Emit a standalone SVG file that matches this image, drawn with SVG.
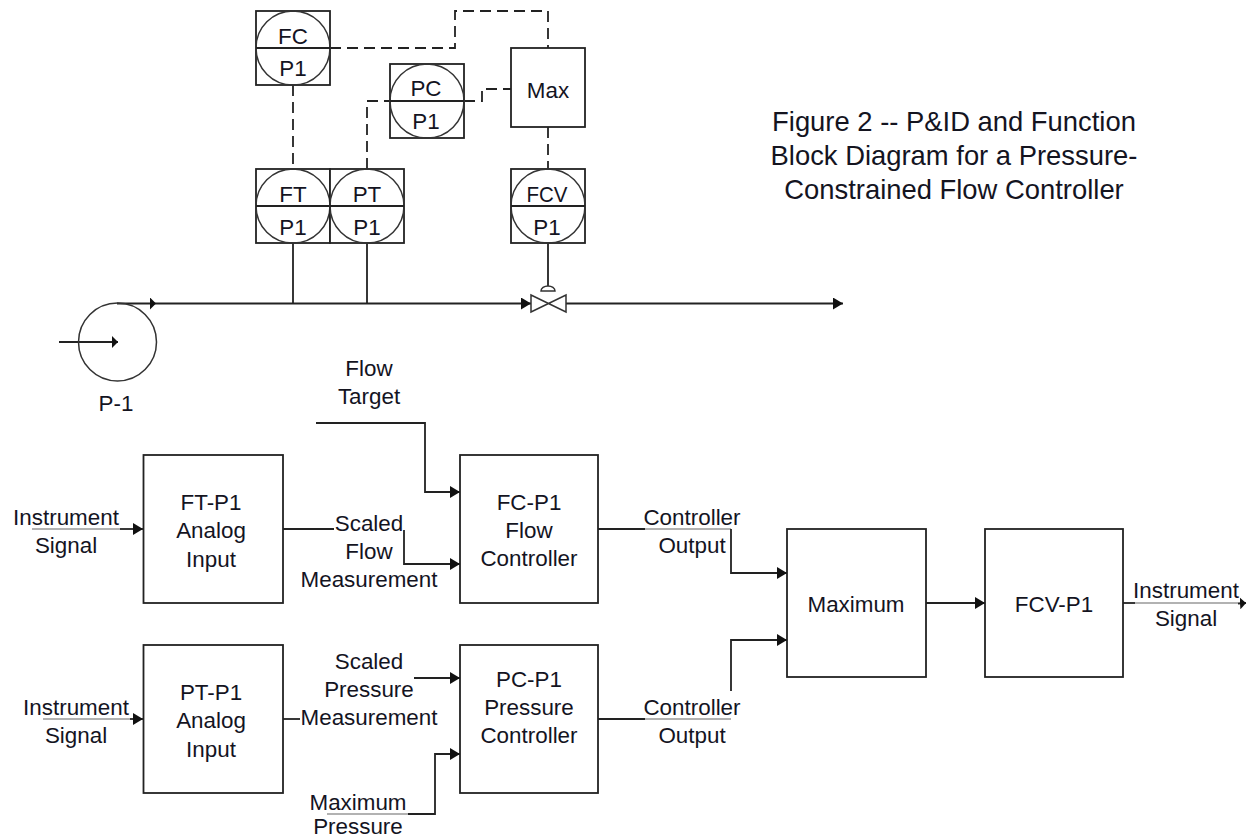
<svg xmlns="http://www.w3.org/2000/svg" width="1247" height="839" viewBox="0 0 1247 839">
<style>
text{font-family:"Liberation Sans",Arial,sans-serif;font-size:22.4px;fill:#14141f;text-anchor:middle}
.b{fill:#fff;stroke:#222;stroke-width:1.8}
.c{fill:none;stroke:#333;stroke-width:1.5}
.w{fill:none;stroke:#222;stroke-width:1.8}
.d{fill:none;stroke:#222;stroke-width:1.8;stroke-dasharray:11 6}
.g{fill:none;stroke:#999;stroke-width:1.3}
.a{fill:none;stroke:#222;stroke-width:1.8;marker-end:url(#ah)}
.n{fill:none;stroke:#222;stroke-width:1.8;marker-end:url(#an)}
.f{font-size:27.4px}
</style>
<defs>
<marker id="ah" markerUnits="userSpaceOnUse" markerWidth="11" markerHeight="12" refX="10" refY="6" orient="auto"><path d="M0 0L10 6L0 12Z" fill="#111"/></marker>
<marker id="an" markerUnits="userSpaceOnUse" markerWidth="7" markerHeight="12" refX="6" refY="6" orient="auto"><path d="M0 0L6 6L0 12Z" fill="#111"/></marker>
</defs>
<g id="connectors">
<path class="d" d="M330 48H455V11H548V48"/>
<path class="d" d="M293 85V169"/>
<path class="d" d="M367 169V101H390"/>
<path class="d" d="M464 101H482V89H511"/>
<path class="d" d="M548 127V169"/>
<path class="w" d="M293 243V303M367 243V303M548 243V286"/>
<path class="n" d="M117 303.500H156"/>
<path class="a" d="M156 303.500H531"/>
<path class="a" d="M566 303.500H843"/>
<path class="n" d="M59 342H118"/>
<path class="g" d="M32 529H120"/>
<path class="a" d="M120 529H143"/>
<path class="w" d="M283 529H334"/>
<path class="a" d="M404 530V564H460"/>
<path class="a" d="M316 423H425V492H460"/>
<path class="g" d="M43 719H130"/>
<path class="a" d="M130 719H143"/>
<path class="w" d="M283 719H300"/>
<path class="a" d="M414 678H460"/>
<path class="g" d="M327 814H408"/>
<path class="a" d="M408 814H435V754H460"/>
<path class="w" d="M598 529H645"/>
<path class="g" d="M645 529H731"/>
<path class="a" d="M731 529V573H787"/>
<path class="w" d="M598 719H645"/>
<path class="g" d="M645 719H731"/>
<path class="a" d="M731 691V640H787"/>
<path class="a" d="M926 603H985"/>
<path class="w" d="M1123 603H1135"/>
<path class="g" d="M1135 603H1238"/>
<path class="n" d="M1238 603.500L1246 603"/>
</g>
<g id="fc"><rect class="b" x="256" y="11" width="74" height="74"/><circle class="c" cx="293" cy="48" r="37"/><path class="w" d="M256 48H330"/><text x="293" y="44">FC</text><text x="293" y="76">P1</text></g>
<g id="pc"><rect class="b" x="390" y="64" width="74" height="74"/><circle class="c" cx="427" cy="101" r="37"/><path class="w" d="M390 101H464"/><text x="426" y="96">PC</text><text x="426" y="129">P1</text></g>
<g id="ft"><rect class="b" x="256" y="169" width="74" height="74"/><circle class="c" cx="293" cy="206" r="37"/><path class="w" d="M256 206H330"/><text x="293" y="202">FT</text><text x="293" y="235">P1</text></g>
<g id="pt"><rect class="b" x="330" y="169" width="74" height="74"/><circle class="c" cx="367" cy="206" r="37"/><path class="w" d="M330 206H404"/><text x="367" y="202">PT</text><text x="367" y="235">P1</text></g>
<g id="fcv"><rect class="b" x="511" y="169" width="74" height="74"/><circle class="c" cx="548" cy="206" r="37"/><path class="w" d="M511 206H585"/><text x="547" y="202" textLength="41" lengthAdjust="spacingAndGlyphs">FCV</text><text x="547" y="235">P1</text></g>
<g id="max"><rect class="b" x="511" y="48" width="74" height="79"/><text x="548" y="98">Max</text></g>
<g id="valve"><path class="c" d="M531 295L566 312V295L531 312Z"/><path class="c" d="M541 291A7 5 0 0 1 555 291Z"/></g>
<g id="pump"><circle class="c" cx="117.500" cy="342" r="39"/><text x="116" y="411">P-1</text></g>
<g id="ft-p1"><rect class="b" x="143.500" y="455" width="139.500" height="148"/><text x="211" y="510">FT-P1</text><text x="211" y="538">Analog</text><text x="211" y="567">Input</text></g>
<g id="fc-p1"><rect class="b" x="460" y="455" width="138" height="148"/><text x="529" y="510">FC-P1</text><text x="529" y="538">Flow</text><text x="529" y="566">Controller</text></g>
<g id="pt-p1"><rect class="b" x="143.500" y="645" width="139.500" height="148"/><text x="211" y="700">PT-P1</text><text x="211" y="728">Analog</text><text x="211" y="757">Input</text></g>
<g id="pc-p1"><rect class="b" x="460" y="645" width="138" height="148"/><text x="529" y="687">PC-P1</text><text x="529" y="715">Pressure</text><text x="529" y="743">Controller</text></g>
<g id="maximum"><rect class="b" x="787" y="529" width="139" height="148"/><text x="856" y="612">Maximum</text></g>
<g id="fcv-p1"><rect class="b" x="985" y="529" width="138" height="148"/><text x="1054" y="612">FCV-P1</text></g>
<g id="labels">
<text x="369" y="376">Flow</text><text x="369" y="404">Target</text>
<text x="66" y="525">Instrument</text><text x="66" y="553">Signal</text>
<text x="369" y="531">Scaled</text><text x="369" y="559">Flow</text><text x="369" y="587">Measurement</text>
<text x="76" y="715">Instrument</text><text x="76" y="743">Signal</text>
<text x="369" y="669">Scaled</text><text x="369" y="697">Pressure</text><text x="369" y="725">Measurement</text>
<text x="358" y="810">Maximum</text><text x="358" y="834">Pressure</text>
<text x="692" y="525">Controller</text><text x="692" y="553">Output</text>
<text x="692" y="715">Controller</text><text x="692" y="743">Output</text>
<text x="1186" y="598">Instrument</text><text x="1186" y="626">Signal</text>
<text class="f" x="954" y="131">Figure 2 -- P&amp;ID and Function</text>
<text class="f" x="954" y="165">Block Diagram for a Pressure-</text>
<text class="f" x="954" y="199">Constrained Flow Controller</text>
</g>
</svg>
